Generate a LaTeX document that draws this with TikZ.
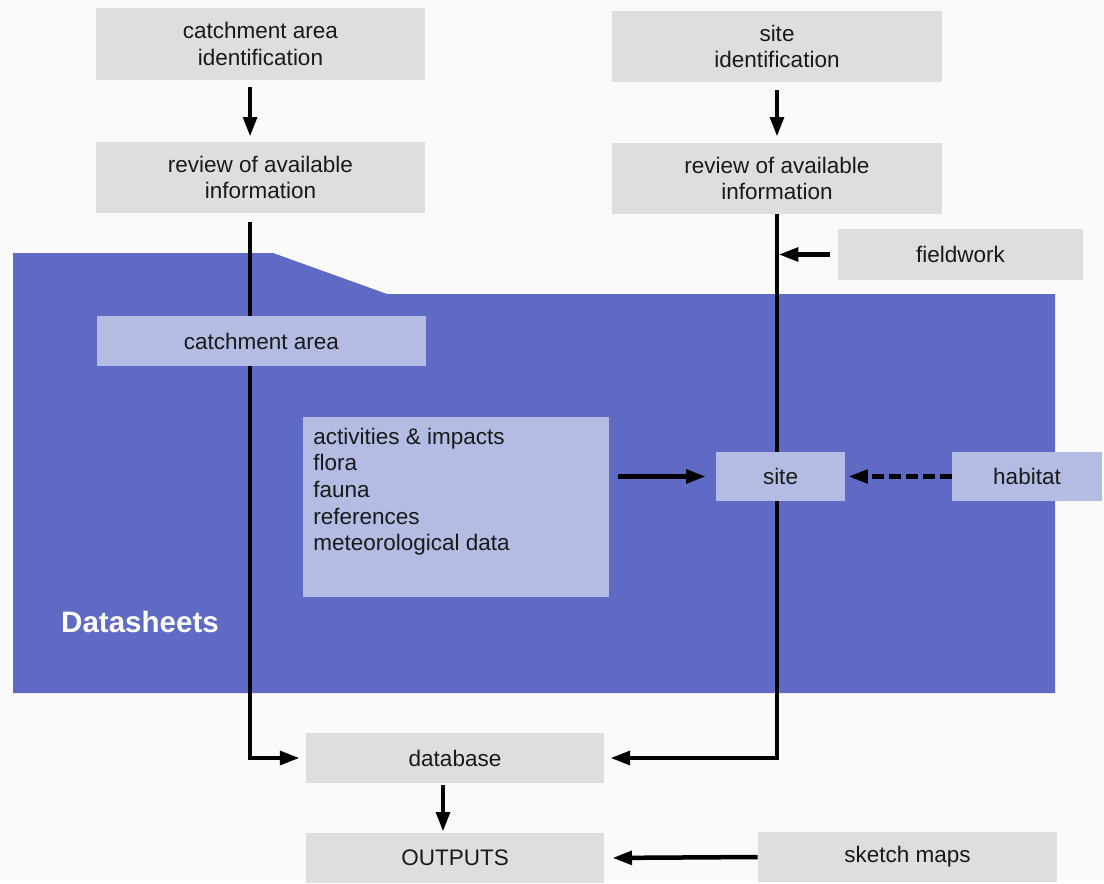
\documentclass[tikz,border=0pt]{standalone}
\usepackage{fontspec}
\setmainfont{Liberation Sans}
\usepackage{xcolor}
\definecolor{sheetBlue}{RGB}{94,106,196}
\definecolor{sheetBox}{RGB}{180,188,228}
\definecolor{stepGrey}{RGB}{222,222,222}
\definecolor{paper}{RGB}{250,250,251}
\usepackage{tikz}
\usetikzlibrary{arrows.meta}
\usetikzlibrary{backgrounds}
\pgfdeclarelayer{sheet}
\pgfdeclarelayer{lines}
\pgfsetlayers{sheet,lines,main}
\tikzstyle{GREY} = [fill=stepGrey]
\tikzstyle{SHEET} = [fill=sheetBox]
\tikzstyle{flow} = [draw, line width=3.2pt, -{Triangle[length=14pt,width=9.5pt]}]

\begin{document}
\begin{tikzpicture}[
            x=0.025cm, y=-0.025cm,
            every node/.style={text centered, align=center, inner sep=0pt, text=black!90, font=\fontsize{16}{19}\selectfont}
        ]
            \begin{pgfonlayer}{sheet}
            \useasboundingbox[fill=paper] (0,0) rectangle (1104,880);
            \fill[sheetBlue] (13,253) -- (273,253) -- (387,294) -- (1055,294) -- (1055,693) -- (13,693) -- cycle;
            \end{pgfonlayer}
            \node [GREY, minimum width=8.225cm, minimum height=1.8cm] (catchid) at (260.5,44) {catchment area\\identification};
            \node [GREY, minimum width=8.225cm, minimum height=1.775cm] (catchrev) at (260.5,177.5) {review of available\\information};
            \node [GREY, minimum width=8.25cm, minimum height=1.775cm] (siteid) at (777,46.5) {site\\identification};
            \node [GREY, minimum width=8.25cm, minimum height=1.775cm] (siterev) at (777,178.5) {review of available\\information};
            \node [GREY, minimum width=6.125cm, minimum height=1.275cm] (fieldwork) at (960.5,254.5) {fieldwork};
            \node [SHEET, minimum width=8.225cm, minimum height=1.25cm] (catcharea) at (261.5,341) {catchment area};
            \node [SHEET, inner xsep=0.25cm, anchor=north west] (info) at (303,417) {\parbox[c][4.5cm][t]{7.15cm}{\raggedright\rule{0pt}{19pt}activities \& impacts\\flora\\fauna\\references\\meteorological data}};
            \node [SHEET, minimum width=3.225cm, minimum height=1.225cm] (site) at (780.5,476.5) {site};
            \node [SHEET, minimum width=3.75cm, minimum height=1.225cm] (habitat) at (1027,476.5) {habitat};
            \node [text=white, font=\fontsize{21}{25}\selectfont\bfseries] (sheets) at (140,622) {Datasheets};
            \node [GREY, minimum width=7.45cm, minimum height=1.25cm] (database) at (455,758) {database};
            \node [GREY, minimum width=7.45cm, minimum height=1.25cm] (outputs) at (455,858) {OUTPUTS};
            \node [GREY, minimum width=7.475cm, minimum height=1.25cm] (sketch) at (907.5,857) {sketch maps};
            \begin{pgfonlayer}{lines}
            \draw [flow, shorten <=0.175cm, shorten >=0.125cm] ([xshift=-0.26cm]catchid.south) -- ([xshift=-0.26cm]catchrev.north);
            \draw [flow, shorten <=0.2cm, shorten >=0.15cm] (siteid.south) -- (siterev.north);
            \draw [flow, shorten <=0.225cm, shorten >=0.15cm] ([xshift=-0.26cm]catchrev.south) |- (database.west);
            \draw [flow, shorten >=0.15cm] (siterev.south) |- (database.east);
            \draw [flow, shorten <=0.2cm, shorten >=0.04cm] (fieldwork.west) -- (fieldwork.west -| siterev.south);
            \draw [flow, shorten <=0.2cm, shorten >=0.25cm] (info.east |- site.west) -- (site.west);
            \draw [flow, dash pattern=on 8.5pt off 3.5pt, shorten >=0.075cm] (habitat.west) -- (site.east);
            \draw [flow, shorten <=0.05cm, shorten >=0.025cm] ([xshift=-0.3cm]database.south) -- ([xshift=-0.3cm]outputs.north);
            \draw [flow, shorten >=0.2cm] (sketch.west) -- (outputs.east);
            \end{pgfonlayer}
        \end{tikzpicture}
\end{document}
